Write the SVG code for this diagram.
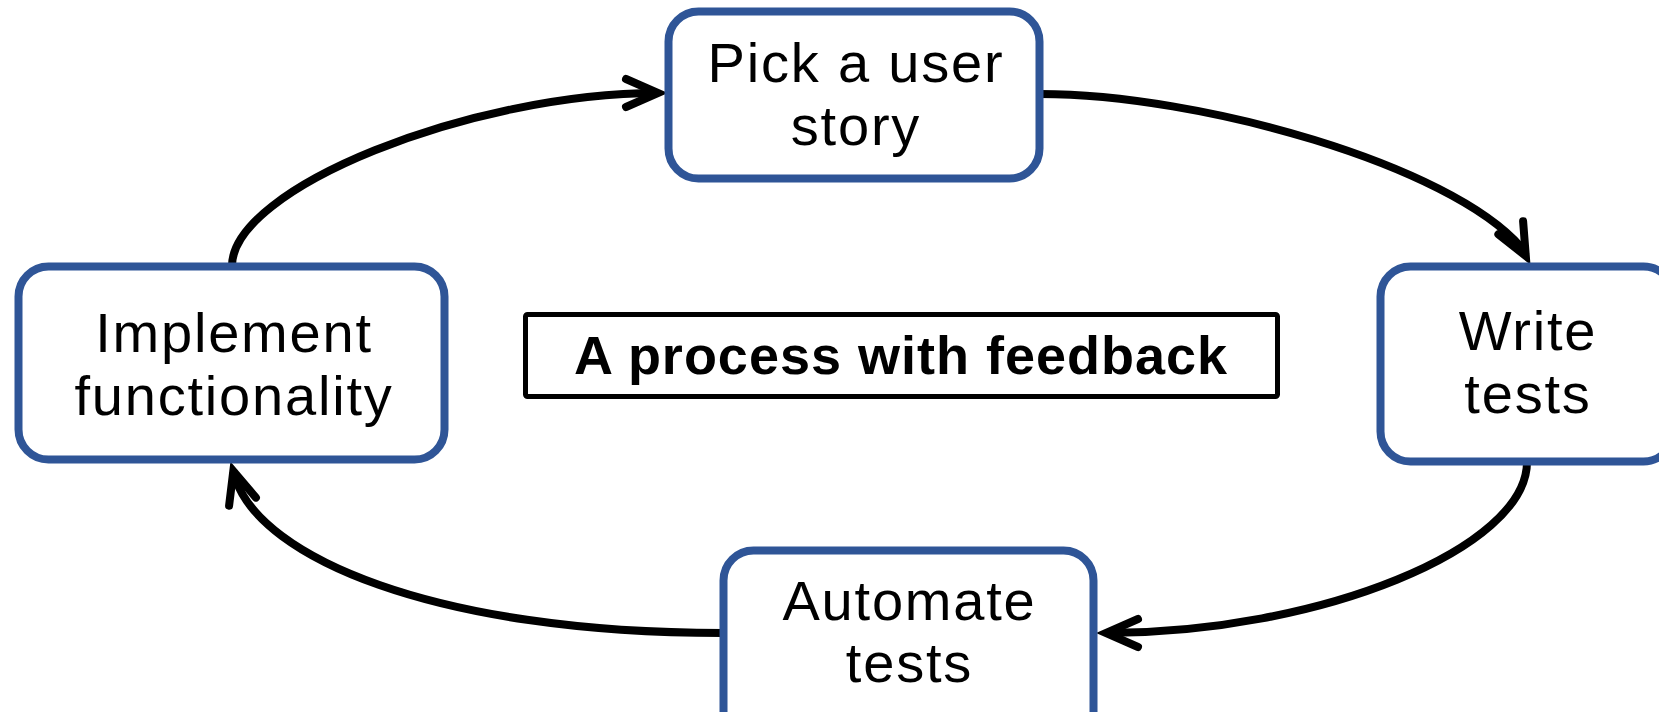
<svg xmlns="http://www.w3.org/2000/svg" width="1659" height="712" viewBox="0 0 1659 712">
  <style>
    .node rect { fill: #ffffff; stroke: #2F5597; stroke-width: 8; }
    .node text { font-family: "Liberation Sans", Arial, sans-serif; font-size: 56px; letter-spacing: 1.8px; fill: #000000; text-anchor: middle; }
    .title rect { fill: #ffffff; stroke: #000000; stroke-width: 5; }
    .title text { font-family: "Liberation Sans", Arial, sans-serif; font-weight: bold; font-size: 54px; letter-spacing: 1px; fill: #000000; text-anchor: middle; }
    .edge { fill: none; stroke: #000000; stroke-width: 8; marker-end: url(#arrow); }
  </style>
  <defs>
    <!-- open V arrowhead, miter tip lands about 9px beyond the path end -->
    <marker id="arrow" markerUnits="userSpaceOnUse" refX="0" refY="0" markerWidth="60" markerHeight="60" orient="auto" overflow="visible">
      <path d="M-32,-14 L0,0 L-32,14" fill="none" stroke="#000000" stroke-width="8" stroke-linecap="round" stroke-linejoin="miter" stroke-miterlimit="10"/>
    </marker>
  </defs>

  <rect width="1659" height="712" fill="#ffffff"/>

  <!-- connectors -->
  <g id="connectors">
    <path class="edge" d="M232,266 C232,188 471,93 658,93"/>
    <path class="edge" d="M1040,94 C1200,94 1450,165 1521,247 L1525.8,256"/>
    <path class="edge" d="M1527,462 C1527,548 1320,633 1106,633"/>
    <path class="edge" d="M723,633 C430,633 262,556 236,480 L233.3,471"/>
  </g>

  <g id="pick-story" class="node">
    <rect x="668.5" y="11.5" width="371" height="167" rx="30"/>
    <text x="856" y="82">Pick a user</text>
    <text x="856" y="145">story</text>
  </g>

  <g id="write-tests" class="node">
    <rect x="1380.5" y="266.5" width="293" height="195" rx="30"/>
    <text x="1528" y="350">Write</text>
    <text x="1528" y="413">tests</text>
  </g>

  <g id="automate-tests" class="node">
    <rect x="723.5" y="550.5" width="370" height="195" rx="30"/>
    <text x="909.5" y="620">Automate</text>
    <text x="909.5" y="682">tests</text>
  </g>

  <g id="implement" class="node">
    <rect x="18.5" y="266.5" width="426" height="193" rx="30"/>
    <text x="234" y="352">Implement</text>
    <text x="234" y="415">functionality</text>
  </g>

  <g id="title" class="title">
    <rect x="525.5" y="314.5" width="752" height="82" rx="2"/>
    <text x="901" y="374">A process with feedback</text>
  </g>
</svg>
